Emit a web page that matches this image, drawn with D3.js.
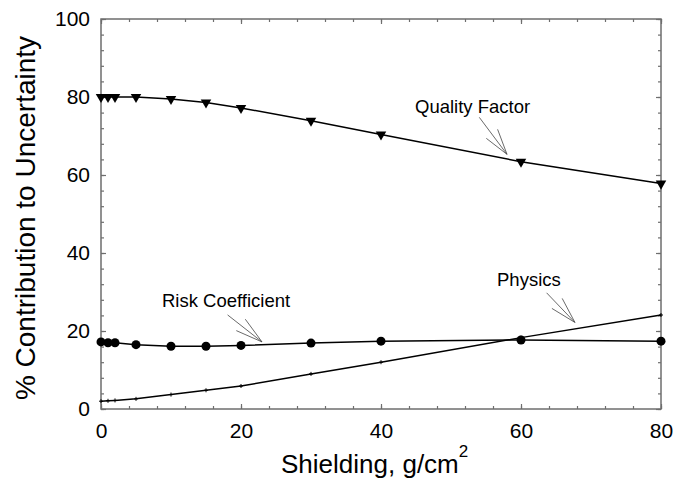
<!DOCTYPE html>
<html>
<head>
<meta charset="utf-8">
<script src="https://cdn.jsdelivr.net/npm/d3@7"></script>
<style>
  html, body { margin: 0; padding: 0; background: #fff; }
  svg { display: block; font-family: "Liberation Sans", Arial, sans-serif; }
</style>
</head>
<body>
<svg id="chart" width="674" height="492"></svg>
<script>
// Shielding depth (g/cm^2) at which each contribution was evaluated
const shielding = [0, 1, 2, 5, 10, 15, 20, 30, 40, 60, 80];

// Percent contribution to total uncertainty
const qualityFactor   = [80.0, 80.0, 80.0, 80.0, 79.5, 78.6, 77.2, 73.9, 70.4, 63.4, 57.8];
const riskCoefficient = [17.2, 17.0, 17.0, 16.5, 16.1, 16.1, 16.3, 16.9, 17.4, 17.7, 17.4];
const physics         = [2.0, 2.1, 2.2, 2.6, 3.7, 4.8, 5.9, 9.0, 12.0, 18.3, 24.1];

const xTicks = [0, 20, 40, 60, 80];
const yTicks = [0, 20, 40, 60, 80, 100];
const xMinorStep = 4;
const yMinorStep = 4;

const svg = d3.select("#chart");
const plotLeft = 101, plotRight = 661, plotTop = 19, plotBottom = 409;

const x = d3.scaleLinear().domain([0, 80]).range([plotLeft, plotRight]);
const y = d3.scaleLinear().domain([0, 100]).range([plotBottom, plotTop]);

const frameColor = "#6e6e6e";
const minorX = d3.range(0, 80 + 0.001, xMinorStep);
const minorY = d3.range(0, 100 + 0.001, yMinorStep);

// Tick marks point inward on all four sides
function drawAxis(axis, transform) {
  const g = svg.append("g").attr("transform", transform).call(axis);
  g.select(".domain").remove();
  g.selectAll("line").attr("stroke", frameColor).attr("stroke-width", 1.2);
  return g;
}

// bottom: major ticks with labels
drawAxis(d3.axisBottom(x).tickValues(minorX).tickSize(-3).tickFormat(""), `translate(0,${plotBottom})`);
const gx = drawAxis(d3.axisBottom(x).tickValues(xTicks).tickSize(-5).tickPadding(14).tickFormat(d3.format("d")), `translate(0,${plotBottom})`);
gx.selectAll("text").attr("font-size", 21).attr("fill", "#000")
  .attr("font-family", "'Liberation Sans', Arial, sans-serif");
// top
drawAxis(d3.axisTop(x).tickValues(minorX).tickSize(-3).tickFormat(""), `translate(0,${plotTop})`);
drawAxis(d3.axisTop(x).tickValues(xTicks).tickSize(-5).tickFormat(""), `translate(0,${plotTop})`);
// left
drawAxis(d3.axisLeft(y).tickValues(minorY).tickSize(-3).tickFormat(""), `translate(${plotLeft},0)`);
const gy = drawAxis(d3.axisLeft(y).tickValues(yTicks).tickSize(-5).tickPadding(11).tickFormat(d3.format("d")), `translate(${plotLeft},0)`);
gy.selectAll("text").attr("font-size", 21).attr("fill", "#000")
  .attr("font-family", "'Liberation Sans', Arial, sans-serif");
// right
drawAxis(d3.axisRight(y).tickValues(minorY).tickSize(-3).tickFormat(""), `translate(${plotRight},0)`);
drawAxis(d3.axisRight(y).tickValues(yTicks).tickSize(-5).tickFormat(""), `translate(${plotRight},0)`);

// plot frame
svg.append("rect")
  .attr("x", plotLeft).attr("y", plotTop)
  .attr("width", plotRight - plotLeft).attr("height", plotBottom - plotTop)
  .attr("fill", "none").attr("stroke", frameColor).attr("stroke-width", 1.5);

// series lines
const line = d3.line().x(d => x(d[0])).y(d => y(d[1]));
const series = [
  { name: "Quality Factor", values: qualityFactor },
  { name: "Risk Coefficient", values: riskCoefficient },
  { name: "Physics", values: physics }
];
series.forEach(s => {
  svg.append("path")
    .datum(shielding.map((v, i) => [v, s.values[i]]))
    .attr("d", line)
    .attr("fill", "none")
    .attr("stroke", "#000")
    .attr("stroke-width", 1.5);
});

// markers
svg.append("g").selectAll("path")
  .data(shielding.map((v, i) => [v, qualityFactor[i]]))
  .join("path")
  .attr("d", d3.symbol(d3.symbolTriangle, 48))
  .attr("transform", d => `translate(${x(d[0])},${y(d[1])}) rotate(180)`)
  .attr("fill", "#000");

svg.append("g").selectAll("path")
  .data(shielding.map((v, i) => [v, riskCoefficient[i]]))
  .join("path")
  .attr("d", d3.symbol(d3.symbolCircle, 64))
  .attr("transform", d => `translate(${x(d[0])},${y(d[1])})`)
  .attr("fill", "#000");

svg.append("g").selectAll("path")
  .data(shielding.map((v, i) => [v, physics[i]]))
  .join("path")
  .attr("d", "M-2,0H2M0,-2V2")
  .attr("transform", d => `translate(${x(d[0])},${y(d[1])})`)
  .attr("stroke", "#000").attr("stroke-width", 1);

// labels with thin open arrows pointing at their curves
const notes = [
  { text: "Quality Factor", tx: 415, ty: 113, tip: [58.0, 65.3],
    shaft: [-27.7, -37], barbs: [[-9.4, -25], [-20.7, -16]] },
  { text: "Physics", tx: 497, ty: 286, tip: [67.7, 22.2],
    shaft: [-28.3, -29.6], barbs: [[-12.7, -24], [-23, -14]] },
  { text: "Risk Coefficient", tx: 162, ty: 307, tip: [23.0, 17.2],
    shaft: [-34.4, -27], barbs: [[-16.7, -22.7], [-25.7, -11.3]] }
];
notes.forEach(n => {
  const px = x(n.tip[0]), py = y(n.tip[1]);
  const g = svg.append("g").attr("stroke", "#444").attr("stroke-width", 0.8).attr("fill", "none");
  [n.shaft, ...n.barbs].forEach(o => {
    g.append("line").attr("x1", px).attr("y1", py).attr("x2", px + o[0]).attr("y2", py + o[1]);
  });
  svg.append("text").attr("x", n.tx).attr("y", n.ty)
    .attr("font-size", 18.5).attr("fill", "#000").text(n.text);
});

// axis titles
const xt = svg.append("text")
  .attr("x", 281).attr("y", 473)
  .attr("font-size", 26).attr("fill", "#000");
xt.append("tspan").text("Shielding, g/cm");
xt.append("tspan").attr("dy", -16).attr("font-size", 17).text("2");

svg.append("text")
  .attr("transform", "translate(35,218) rotate(-90)")
  .attr("text-anchor", "middle")
  .attr("font-size", 28).attr("fill", "#000")
  .text("% Contribution to Uncertainty");
</script>
</body>
</html>
